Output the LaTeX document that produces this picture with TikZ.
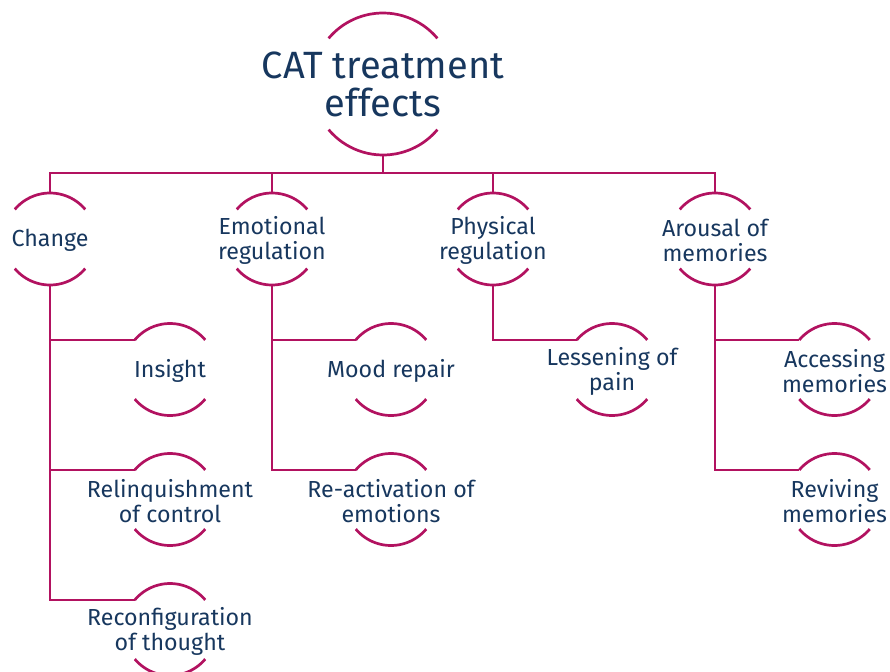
\documentclass[tikz,border=0pt]{standalone}
\usepackage{fontspec}
\setmainfont{Fira Sans}
\usetikzlibrary{positioning,calc}
\definecolor{ringred}{RGB}{178,18,96}
\definecolor{inknavy}{RGB}{23,55,94}
% upper and lower arc of a ring node: name, radius
\newcommand{\halfarcs}[2]{%
  \draw[arcline] (#1.40) arc[start angle=40, end angle=140, radius=#2];
  \draw[arcline] (#1.220) arc[start angle=220, end angle=320, radius=#2];}

\begin{document}
\begin{tikzpicture}[
  x=1pt, y=1pt,
  bigring/.style={circle, minimum size=142pt, inner sep=0pt, outer sep=0pt},
  ring/.style={circle, minimum size=92pt, inner sep=0pt, outer sep=0pt},
  arcline/.style={draw=ringred, line width=2.7pt},
  link/.style={draw=ringred, line width=2.5pt},
  headtext/.style={text=inknavy, align=center, font=\fontsize{38}{38}\selectfont},
  lbl/.style={text=inknavy, align=center, yshift=-1.5pt, font=\fontsize{23.2}{25}\selectfont},
]
\useasboundingbox (0,0) rectangle (890,-671);

% ---- top ----
\node[bigring] (cat) at (383,-84)
  [label={[headtext]center:CAT treatment\\effects}] {};

% ---- first level ----
\node[ring] (change)  at (50,-239)  [label={[lbl]center:Change}] {};
\node[ring] (emoreg)  at (272,-239) [label={[lbl]center:Emotional\\regulation}] {};
\node[ring] (physreg) at (493,-239) [label={[lbl]center:Physical\\regulation}] {};
\node[ring] (arousal) at (715,-239) [label={[lbl]center:Arousal of\\memories}] {};

% ---- second level ----
\node[ring] (insight)  at (170,-369.5)   [label={[lbl]center:Insight}] {};
\node[ring] (relinq)   at (170,-499.5)   [label={[lbl]center:Relinquishment\\of control}] {};
\node[ring] (reconf)   at (170,-629.5)   [label={[lbl]center:Reconfiguration\\of thought}] {};
\node[ring] (mood)     at (391,-369.5)   [label={[lbl]center:Mood repair}] {};
\node[ring] (react)    at (391,-499.5)   [label={[lbl]center:Re-activation of\\emotions}] {};
\node[ring] (lessen)   at (612,-369.5)   [label={[lbl]center:Lessening of\\pain}] {};
\node[ring] (access)   at (834.5,-369.5) [label={[lbl]center:Accessing\\memories}] {};
\node[ring] (reviving) at (834.5,-499.5) [label={[lbl]center:Reviving\\memories}] {};

% ---- arcs ----
\halfarcs{cat}{71pt}
\foreach \n in {change,emoreg,physreg,arousal,insight,relinq,reconf,mood,react,lessen,access,reviving}{
  \halfarcs{\n}{46pt}
}

% ---- connectors ----
\draw[link] (cat.south) -- ++(0,-18) coordinate (bus);
\draw[link] (change.north) |- (bus) -| (arousal.north);
\foreach \n in {emoreg,physreg}
  \draw[link] (\n.north) -- (\n.north |- bus);
\foreach \p/\c in {change/insight, change/relinq, change/reconf, emoreg/mood,
                   emoreg/react, physreg/lessen, arousal/access, arousal/reviving}
  \draw[link] (\p.south) |- (\c.140);

\end{tikzpicture}
\end{document}
